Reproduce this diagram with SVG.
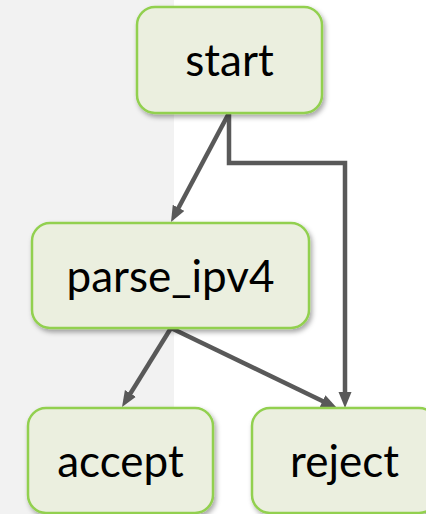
<svg xmlns="http://www.w3.org/2000/svg" width="426" height="514" viewBox="0 0 426 514">
  <defs>
    <style>
      .node rect { fill: #EBEFDF; stroke: #92D050; stroke-width: 2.5; filter: url(#sh); }
      .node text { font-family: "Lato", "Liberation Sans", sans-serif; font-size: 44px; fill: #000; text-anchor: middle; }
      .edge { fill: none; stroke: #595959; stroke-width: 4.5; marker-end: url(#arr); }
    </style>
    <filter id="sh" x="-20%" y="-20%" width="140%" height="150%">
      <feDropShadow dx="2" dy="3" stdDeviation="2.5" flood-color="#000" flood-opacity="0.35"/>
    </filter>
    <marker id="arr" markerUnits="userSpaceOnUse" markerWidth="18" markerHeight="15" refX="9" refY="6.5" orient="auto">
      <path d="M0,0 L16,6.5 L0,13 z" fill="#595959"/>
    </marker>
  </defs>
  <rect x="0" y="0" width="174" height="514" fill="#F2F2F2"/>
  <rect x="174" y="0" width="252" height="514" fill="#FFFFFF"/>
  <g id="connectors">
    <path class="edge" d="M229,113 L174.3,215.8"/>
    <path class="edge" d="M229,113 V163 H345 V401"/>
    <path class="edge" d="M171,328 L125.7,401.1"/>
    <path class="edge" d="M171,328 L330.7,405"/>
  </g>
  <g id="start" class="node">
    <rect x="137" y="7" width="185" height="106" rx="18"/>
    <text x="229.5" y="76">start</text>
  </g>
  <g id="parse_ipv4" class="node">
    <rect x="32" y="223" width="277" height="105" rx="18"/>
    <text x="170.5" y="292">parse_ipv4</text>
  </g>
  <g id="accept" class="node">
    <rect x="28" y="408" width="185" height="105" rx="18"/>
    <text x="120.5" y="477">accept</text>
  </g>
  <g id="reject" class="node">
    <rect x="252" y="408" width="185" height="105" rx="18"/>
    <text x="344.5" y="477">reject</text>
  </g>
</svg>
